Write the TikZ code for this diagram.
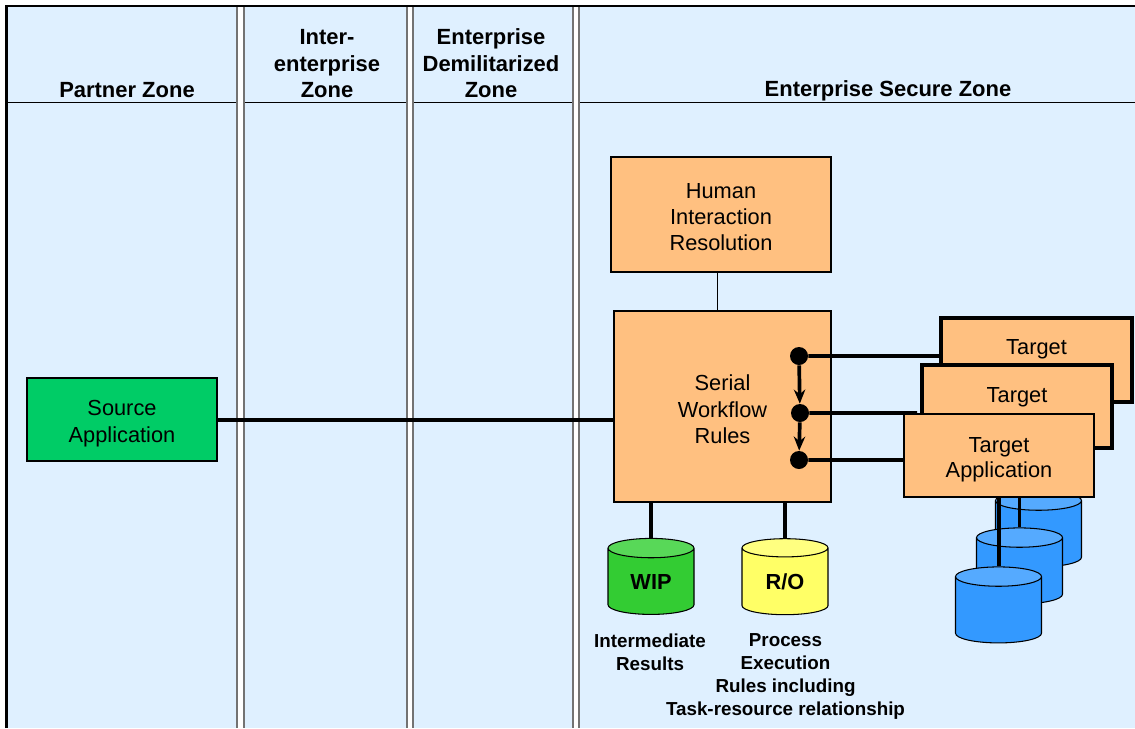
\documentclass[tikz,border=0pt]{standalone}
\usepackage{fontspec}
\setmainfont{Liberation Sans}
\usetikzlibrary{arrows.meta,shapes.geometric}
\definecolor{zoneblue}{HTML}{DFF0FF}
\definecolor{boxorange}{HTML}{FFC080}
\definecolor{srcgreen}{HTML}{00CC66}
\definecolor{dbbody}{HTML}{3399FF}
\definecolor{dbtop}{HTML}{55AAFF}
\definecolor{wipgreen}{HTML}{33CC33}
\definecolor{wipgreentop}{HTML}{58D858}
\definecolor{royellow}{HTML}{FFFF66}
\definecolor{royellowtop}{HTML}{FFFF80}
\begin{document}
\begin{tikzpicture}[scale=0.2,
  headtext/.style={font=\fontsize{12.5}{15}\selectfont\bfseries,align=center,anchor=south},
  capttext/.style={font=\fontsize{10.7}{13.1}\selectfont\bfseries,align=center,anchor=north},
  boxnode/.style={draw=black,fill=boxorange,line width=1.3pt,align=center,font=\fontsize{12.4}{15}\selectfont},
  backbox/.style={boxnode,line width=2.4pt},
  dbnode/.style={cylinder,shape border rotate=90,aspect=0.47,draw=black,line width=0.6pt,
    minimum width=1.72cm,minimum height=1.52cm,cylinder uses custom fill,
    font=\fontsize{12.4}{15}\selectfont\bfseries},
  dbstack/.style={dbnode,cylinder body fill=dbbody,cylinder end fill=dbtop},
  dotnode/.style={circle,fill=black,minimum size=0.36cm},
  thickline/.style={black,line width=2.1pt},
  flowline/.style={black,line width=2.1pt,-{Stealth[length=8pt,width=6.5pt]}}
]
\tikzstyle{every node}+=[inner sep=0pt]
\useasboundingbox (0,0) rectangle (113.5,-72.8);
\fill [zoneblue] (0.6,-0.6) rectangle (113.5,-72.8);
\fill [white] (23.7,-0.6) rectangle (24.4,-72.8);
\fill [white] (40.7,-0.6) rectangle (41.3,-72.8);
\fill [white] (57.3,-0.6) rectangle (57.9,-72.8);
\draw [black,line width=0.5pt] (0.6,-10.2) -- (23.7,-10.2);
\draw [black,line width=0.5pt] (24.4,-10.2) -- (40.7,-10.2);
\draw [black,line width=0.5pt] (41.3,-10.2) -- (57.3,-10.2);
\draw [black,line width=0.5pt] (57.9,-10.2) -- (113.5,-10.2);
\draw [black!55,line width=0.6pt] (23.7,-0.6) -- (23.7,-72.8);
\draw [black!55,line width=0.6pt] (24.4,-0.6) -- (24.4,-72.8);
\draw [black!55,line width=0.6pt] (40.7,-0.6) -- (40.7,-72.8);
\draw [black!55,line width=0.6pt] (41.3,-0.6) -- (41.3,-72.8);
\draw [black!55,line width=0.6pt] (57.3,-0.6) -- (57.3,-72.8);
\draw [black!55,line width=0.6pt] (57.9,-0.6) -- (57.9,-72.8);
\draw [black,line width=1.7pt] (0.65,-72.8) -- (0.65,-0.6) -- (113.5,-0.6);
\node [headtext] (partnerhead) at (12.7,-9.8) {Partner Zone};
\node [headtext] (interhead) at (32.7,-9.8) {Inter-\\enterprise\\Zone};
\node [headtext] (dmzhead) at (49.1,-9.8) {Enterprise\\Demilitarized\\Zone};
\node [headtext] (securehead) at (88.8,-10.1) {Enterprise Secure Zone};
\node [boxnode,fill=srcgreen,minimum width=3.8cm,minimum height=1.66cm] (source) at (12.2,-41.95) {\rule{0pt}{13.5pt}Source\\Application};
\node [boxnode,minimum width=4.4cm,minimum height=2.3cm] (human) at (72.1,-21.45) {\rule{0pt}{11.6pt}Human\\Interaction\\Resolution};
\node [boxnode,minimum width=4.34cm,minimum height=3.82cm] (serial) at (72.25,-40.65) {\rule{0pt}{12.4pt}Serial\\Workflow\\Rules};
\node [dbstack] (dbC) at (103.85,-53.4) {\phantom{WIP}};
\node [dbstack] (dbB) at (101.95,-57.1) {\phantom{WIP}};
\node [dbstack] (dbA) at (99.85,-61) {\phantom{WIP}};
\node [backbox,minimum width=3.82cm,minimum height=1.68cm] (targetC) at (103.65,-36) {\raisebox{1.22em}{Target}};
\node [backbox,minimum width=3.8cm,minimum height=1.66cm] (targetB) at (101.7,-40.65) {\raisebox{1.06em}{Target}};
\node [boxnode,minimum width=3.8cm,minimum height=1.66cm,font=\fontsize{12.4}{14.3}\selectfont] (targetA) at (99.9,-45.55) {\rule{0pt}{13.5pt}Target\\Application};
\node [dbnode,cylinder body fill=wipgreen,cylinder end fill=wipgreentop] (wip) at (65.1,-58.15) {WIP};
\node [dbnode,cylinder body fill=royellow,cylinder end fill=royellowtop] (ro) at (78.5,-58.15) {R/O};
\node [capttext] (wipcapt) at (65,-63.35) {Intermediate\\Results};
\node [capttext] (rocapt) at (78.55,-63.35) {Process\\Execution\\Rules including\\Task-resource relationship};
\node [dotnode] (dotA) at (79.9,-35.6) {};
\node [dotnode] (dotB) at (80,-41.3) {};
\node [dotnode] (dotC) at (79.9,-46) {};
\coordinate (humanlink) at (71.7,-29);
\coordinate (targetBend) at (91.7,-41.3);
\draw [thickline] (source.east |- 0,-42) -- (serial.west |- 0,-42);
\draw [black,line width=0.5pt] (humanlink |- human.south) -- (humanlink |- serial.north);
\draw [thickline] (wip.top |- serial.south) -- (wip.top);
\draw [thickline] (ro.top |- serial.south) -- (ro.top);
\draw [flowline] (dotA) -- (dotB);
\draw [flowline] (dotB) -- (dotC);
\draw [thickline] (dotA) -- (dotA -| targetC.west);
\draw [thickline] (dotB) -- (targetBend);
\draw [thickline] (dotC) -- (dotC -| targetA.west);
\draw [thickline] (dbB.top |- targetA.south) -- (dbB.top);
\draw [thickline] (targetA.south) -- (targetA.south |- dbA.top);
\end{tikzpicture}
\end{document}
